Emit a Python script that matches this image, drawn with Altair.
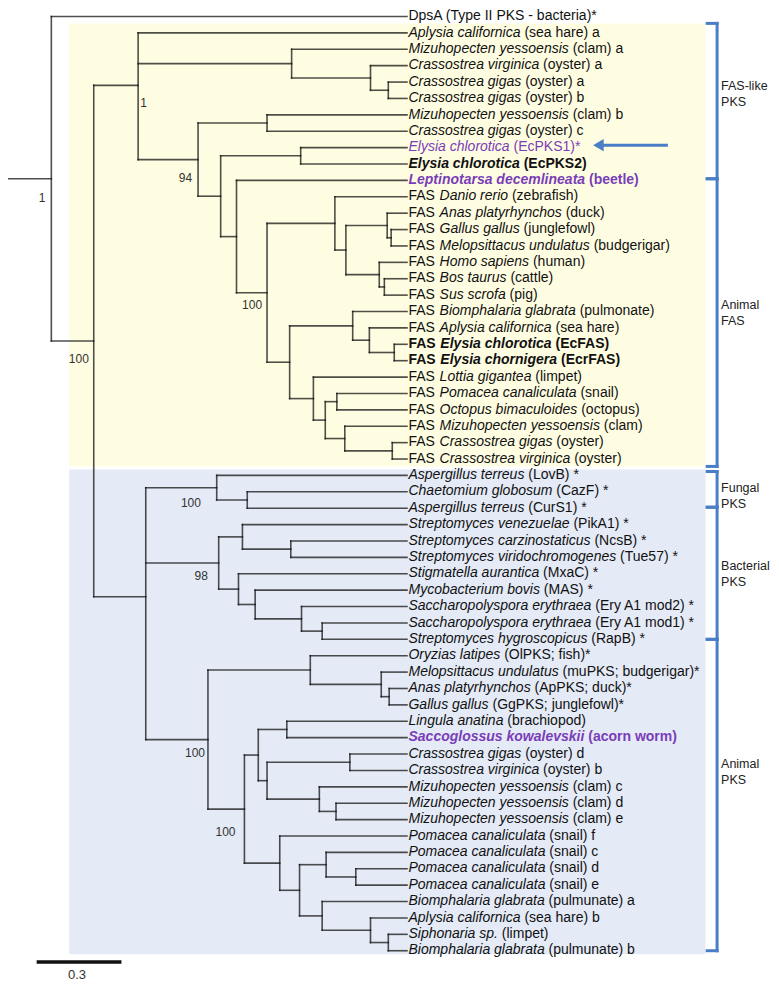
import altair as alt
import pandas as pd

# ---------------- tree data ----------------
# internal nodes: name, parent, depth from root (substitutions / site)
node_names = [
    "R", "A", "B1", "N1", "N2", "N3", "N94", "N4", "N5", "N6",
    "N100a", "N7", "N8", "N10", "N11", "N13", "N12", "N14", "N9", "N15",
    "N17", "N18", "N16", "N19", "N20", "N21", "N22", "C", "F", "F2",
    "K", "K1", "K3", "K2", "K4", "K5", "K6", "P", "P1", "P3",
    "P4", "P2", "P5", "P7", "P8", "P9", "P10", "P11", "P6", "P12",
    "P13", "P15", "P14", "P16", "P17",
]
node_parents = [
    None, "R", "A", "B1", "N1", "N2", "B1", "N94", "N94", "N5",
    "N5", "N100a", "N7", "N8", "N10", "N11", "N10", "N12", "N7", "N9",
    "N15", "N17", "N9", "N16", "N19", "N19", "N21", "A", "C", "F",
    "C", "K", "K1", "K", "K2", "K4", "K5", "C", "P", "P1",
    "P3", "P", "P2", "P5", "P5", "P8", "P8", "P10", "P2", "P6",
    "P12", "P13", "P12", "P14", "P16",
]
node_depths = [
    0.000, 0.150, 0.307, 0.850, 1.129, 1.192, 0.519, 0.763, 0.599, 0.882,
    0.655, 0.763, 1.003, 1.042, 1.188, 1.202, 1.160, 1.178, 0.843, 1.066,
    1.125, 1.213, 0.927, 0.969, 1.010, 1.038, 1.206, 0.334, 0.585, 0.693,
    0.592, 0.676, 0.847, 0.662, 0.721, 0.885, 0.958, 0.554, 0.916, 1.167,
    1.195, 0.683, 0.732, 0.833, 0.763, 1.056, 0.948, 1.007, 0.808, 0.878,
    0.972, 1.077, 0.958, 1.129, 1.192,
]
ROOT_STEM = -0.153     # start of the root stem
TIP = 1.258            # aligned tip position

# leaves (top to bottom)
leaf_parent = [
    "R", "B1", "N1", "N2", "N3", "N3", "N4", "N4", "N6", "N6",
    "N100a", "N8", "N11", "N13", "N13", "N12", "N14", "N14", "N15", "N17",
    "N18", "N18", "N16", "N20", "N20", "N21", "N22", "N22", "F", "F2",
    "F2", "K1", "K3", "K3", "K2", "K4", "K5", "K6", "K6", "P1",
    "P3", "P4", "P4", "P7", "P7", "P9", "P9", "P10", "P11", "P11",
    "P6", "P13", "P15", "P15", "P14", "P16", "P17", "P17",
]
leaf_prefix = ["DpsA (Type II PKS - bacteria)*"] + [""] * 10 + ["FAS "] * 17 + [""] * 30
leaf_species = [
    "", "Aplysia californica", "Mizuhopecten yessoensis", "Crassostrea virginica",
    "Crassostrea gigas", "Crassostrea gigas", "Mizuhopecten yessoensis", "Crassostrea gigas",
    "Elysia chlorotica", "Elysia chlorotica", "Leptinotarsa decemlineata",
    "Danio rerio", "Anas platyrhynchos", "Gallus gallus", "Melopsittacus undulatus",
    "Homo sapiens", "Bos taurus", "Sus scrofa", "Biomphalaria glabrata",
    "Aplysia californica", "Elysia chlorotica", "Elysia chornigera", "Lottia gigantea",
    "Pomacea canaliculata", "Octopus bimaculoides", "Mizuhopecten yessoensis",
    "Crassostrea gigas", "Crassostrea virginica",
    "Aspergillus terreus", "Chaetomium globosum", "Aspergillus terreus",
    "Streptomyces venezuelae", "Streptomyces carzinostaticus", "Streptomyces viridochromogenes",
    "Stigmatella aurantica", "Mycobacterium bovis", "Saccharopolyspora erythraea",
    "Saccharopolyspora erythraea", "Streptomyces hygroscopicus",
    "Oryzias latipes", "Melopsittacus undulatus", "Anas platyrhynchos", "Gallus gallus",
    "Lingula anatina", "Saccoglossus kowalevskii", "Crassostrea gigas", "Crassostrea virginica",
    "Mizuhopecten yessoensis", "Mizuhopecten yessoensis", "Mizuhopecten yessoensis",
    "Pomacea canaliculata", "Pomacea canaliculata", "Pomacea canaliculata", "Pomacea canaliculata",
    "Biomphalaria glabrata", "Aplysia californica", "Siphonaria sp.", "Biomphalaria glabrata",
]
leaf_suffix = [
    "", " (sea hare) a", " (clam) a", " (oyster) a", " (oyster) a", " (oyster) b",
    " (clam) b", " (oyster) c", " (EcPKS1)*", " (EcPKS2)", " (beetle)",
    " (zebrafish)", " (duck)", " (junglefowl)", " (budgerigar)", " (human)", " (cattle)",
    " (pig)", " (pulmonate)", " (sea hare)", " (EcFAS)", " (EcrFAS)", " (limpet)",
    " (snail)", " (octopus)", " (clam)", " (oyster)", " (oyster)",
    " (LovB) *", " (CazF) *", " (CurS1) *", " (PikA1) *", " (NcsB) *", " (Tue57) *",
    " (MxaC) *", " (MAS) *", " (Ery A1 mod2) *", " (Ery A1 mod1) *", " (RapB) *",
    " (OlPKS; fish)*", " (muPKS; budgerigar)*", " (ApPKS; duck)*", " (GgPKS; junglefowl)*",
    " (brachiopod)", " (acorn worm)", " (oyster) d", " (oyster) b", " (clam) c",
    " (clam) d", " (clam) e", " (snail) f", " (snail) c", " (snail) d", " (snail) e",
    " (pulmunate) a", " (sea hare) b", " (limpet)", " (pulmunate) b",
]
bold_leaves = [9, 10, 20, 21, 44]
purple_leaves = [8, 10, 44]

# bootstrap support values
boot_nodes = ["R", "B1", "N94", "N7", "A", "F", "K", "P", "P2"]
boot_values = ["1", "1", "94", "100", "100", "100", "98", "100", "100"]

# clade shading (leaf ranges) and brackets
shade_first = [1, 28]
shade_last = [27, 57]
bracket_names = ["FAS-like\nPKS", "Animal\nFAS", "Fungal\nPKS", "Bacterial\nPKS", "Animal\nPKS"]
bracket_top = [0.42, 9.9, 27.76, 29.94, 38.0]
bracket_bottom = [9.9, 27.45, 29.94, 38.0, 57.0]
bracket_label_y = [4.24, 17.58, 28.79, 33.55, 45.58]

SCALE_LEN = 0.3
SCALE_LABEL = "0.3"

# ---------------- layout / style ----------------
W, H = 763, 983
X_DOMAIN = [-0.1533, 2.5457]
Y_DOMAIN = [-0.5186, 59.457]
PPU = W / (X_DOMAIN[1] - X_DOMAIN[0])      # rendered px per unit
REF_PPU, REF_PPR = 287.0, 16.5             # px per unit / per row in the reference
boot_dx = [-6, 9, -6, -5, -5, -16, -11, -3, -9]
boot_dy = [19.6, 18.2, 18.5, 11.8, 18, 15.6, 13, 14, 23]
shade_pad_top = [0.58, 0.36]
shade_pad_bot = [0.45, 0.21]
shade_colors = ["#FFFDE1", "#E4EAF6"]
SHADE_X = [0.063, 2.314]
BR_X, BR_TICK, BR_LABEL_X = 2.355, 2.320, 2.369
ARROW_X, ARROW_Y = [1.915, 2.181], 7.85
SCALE_X0, SCALE_Y = -0.052, 57.69
PURPLE = "#7A3DB8"
BLUE = "#4A7EC6"
FONT = "Liberation Sans"

REG = dict(zip("abcdefghijklmnopqrstuvwxyz",
               [556, 556, 500, 556, 556, 278, 556, 556, 222, 222, 500, 222, 833,
                556, 556, 556, 556, 333, 500, 278, 556, 500, 722, 500, 500, 500]))
REG.update(dict(zip("ABCDEFGHIJKLMNOPQRSTUVWXYZ",
                    [667, 667, 722, 722, 667, 611, 778, 722, 278, 500, 667, 556, 833,
                     722, 778, 667, 778, 722, 667, 611, 722, 667, 944, 667, 667, 611])))
REG.update({" ": 278, "(": 333, ")": 333, "*": 389, "-": 333, ".": 278, ";": 278})
REG.update({d: 556 for d in "0123456789"})
BOLD = dict(zip("abcdefghijklmnopqrstuvwxyz",
                [556, 611, 556, 611, 556, 333, 611, 611, 278, 278, 556, 278, 889,
                 611, 611, 611, 611, 389, 556, 333, 611, 556, 778, 556, 556, 500]))
BOLD.update(dict(zip("ABCDEFGHIJKLMNOPQRSTUVWXYZ",
                     [722, 722, 722, 722, 667, 611, 778, 722, 278, 556, 722, 611, 833,
                      722, 778, 667, 778, 722, 667, 611, 722, 667, 944, 667, 667, 611])))
BOLD.update({" ": 278, "(": 333, ")": 333, "*": 389, "-": 333, ".": 278, ";": 333})
BOLD.update({d: 556 for d in "0123456789"})
LABEL_SIZE = 14


def text_w(s, bold):
    t = BOLD if bold else REG
    return sum(t.get(c, 556) for c in s) * LABEL_SIZE / 1000.0


# ---------------- geometry from the tree ----------------
depth = dict(zip(node_names, node_depths))
parent = dict(zip(node_names, node_parents))
children = {n: [] for n in node_names}
for n, p in zip(node_names, node_parents):
    if p is not None:
        children[p].append(("node", n))
for i, p in enumerate(leaf_parent):
    children[p].append(("leaf", i))

ycache = {}


def ypos(item):
    kind, key = item
    if kind == "leaf":
        return float(key)
    if key not in ycache:
        ys = [ypos(c) for c in children[key]]
        ycache[key] = sum(ys) / len(ys)
    return ycache[key]


segs = []
for n in node_names:
    ny = ypos(("node", n))
    ys = [ypos(c) for c in children[n]]
    segs.append(dict(x=depth[n], x2=depth[n], y=min(ys), y2=max(ys)))
    px = ROOT_STEM if parent[n] is None else depth[parent[n]]
    segs.append(dict(x=px, x2=depth[n], y=ny, y2=ny))
for i, p in enumerate(leaf_parent):
    segs.append(dict(x=depth[p], x2=TIP, y=float(i), y2=float(i)))
seg_df = pd.DataFrame(segs)

X = alt.X("x:Q", scale=alt.Scale(domain=X_DOMAIN, nice=False, zero=False), axis=None)
Y = alt.Y("y:Q", scale=alt.Scale(domain=Y_DOMAIN, reverse=True, nice=False, zero=False), axis=None)

shade_df = pd.DataFrame(dict(
    x=[SHADE_X[0]] * 2, x2=[SHADE_X[1]] * 2,
    y=[f - t for f, t in zip(shade_first, shade_pad_top)],
    y2=[l + b for l, b in zip(shade_last, shade_pad_bot)],
    c=shade_colors,
))
shade = alt.Chart(shade_df).mark_rect(strokeWidth=0).encode(
    x=X, x2="x2:Q", y=Y, y2="y2:Q", color=alt.Color("c:N", scale=None))

tree = alt.Chart(seg_df).mark_rule(color="#111111", opacity=0.74, strokeWidth=1.6,
                                   strokeCap="square").encode(x=X, x2="x2:Q", y=Y, y2="y2:Q")

# brackets
br = []
for t, b in zip(bracket_top, bracket_bottom):
    br.append(dict(x=BR_X, x2=BR_X, y=t, y2=b))
    br.append(dict(x=BR_TICK, x2=BR_X, y=t, y2=t))
    br.append(dict(x=BR_TICK, x2=BR_X, y=b, y2=b))
brackets = alt.Chart(pd.DataFrame(br)).mark_rule(color=BLUE, strokeWidth=3, strokeCap="square").encode(
    x=X, x2="x2:Q", y=Y, y2="y2:Q")
br_text = alt.Chart(pd.DataFrame(dict(x=[BR_LABEL_X] * 5, y=bracket_label_y, t=bracket_names))).mark_text(
    align="left", baseline="middle", font=FONT, fontSize=12.5, lineBreak="\n", lineHeight=16,
    color="#222222").encode(x=X, y=Y, text="t:N")

# arrow
arrow_line = alt.Chart(pd.DataFrame(dict(x=[ARROW_X[0] + 0.025], x2=[ARROW_X[1]], y=[ARROW_Y]))).mark_rule(
    color=BLUE, strokeWidth=3).encode(x=X, x2="x2:Q", y=Y)
arrow_head = alt.Chart(pd.DataFrame(dict(x=[ARROW_X[0] + 0.02], y=[ARROW_Y]))).mark_point(
    shape="triangle-left", filled=True, size=150, color=BLUE, opacity=1).encode(x=X, y=Y)

# scale bar
scale_bar = alt.Chart(pd.DataFrame(dict(x=[SCALE_X0], x2=[SCALE_X0 + SCALE_LEN], y=[SCALE_Y]))).mark_rule(
    color="#111111", strokeWidth=3.5).encode(x=X, x2="x2:Q", y=Y)
scale_text = alt.Chart(pd.DataFrame(dict(x=[SCALE_X0 + SCALE_LEN / 2 - 0.007], y=[SCALE_Y + 0.78],
                                         t=[SCALE_LABEL]))).mark_text(
    align="center", baseline="middle", font=FONT, fontSize=13, color="#333333").encode(x=X, y=Y, text="t:N")

# bootstrap labels
boot_df = pd.DataFrame(dict(
    x=[depth[n] + dx / REF_PPU for n, dx in zip(boot_nodes, boot_dx)],
    y=[ypos(("node", n)) + dy / REF_PPR for n, dy in zip(boot_nodes, boot_dy)],
    t=boot_values,
))
boot = alt.Chart(boot_df).mark_text(align="right", baseline="middle", font=FONT, fontSize=12,
                                    color="#333333").encode(x=X, y=Y, text="t:N")

# leaf labels (mixed italic / roman parts)
parts = []
for i in range(len(leaf_parent)):
    bold = i in bold_leaves
    color = PURPLE if i in purple_leaves else "#111111"
    pos = 1.5
    for txt, ital in ((leaf_prefix[i], False), (leaf_species[i], True), (leaf_suffix[i], False)):
        if not txt:
            continue
        lead = len(txt) - len(txt.lstrip(" "))
        parts.append(dict(x=TIP + (pos + text_w(" " * lead, bold)) / PPU, y=float(i) - 0.02,
                          t=txt.strip(), italic=ital, bold=bold, color=color))
        pos += text_w(txt, bold)
parts_df = pd.DataFrame(parts)

text_layers = []
for (ital, bold, color), g in parts_df.groupby(["italic", "bold", "color"]):
    text_layers.append(
        alt.Chart(g.reset_index(drop=True)).mark_text(
            align="left", baseline="middle", font=FONT, fontSize=LABEL_SIZE,
            fontStyle="italic" if ital else "normal", fontWeight="bold" if bold else "normal",
            color=color).encode(x=X, y=Y, text="t:N"))

chart = alt.layer(shade, tree, arrow_line, arrow_head, brackets, br_text, scale_bar, scale_text, boot,
                  *text_layers).properties(
    width=W, height=H, autosize=alt.AutoSizeParams(type="none"), padding=0,
    background="white").configure_view(stroke=None)

chart.save("out.html", embed_options={"renderer": "svg", "actions": False})
